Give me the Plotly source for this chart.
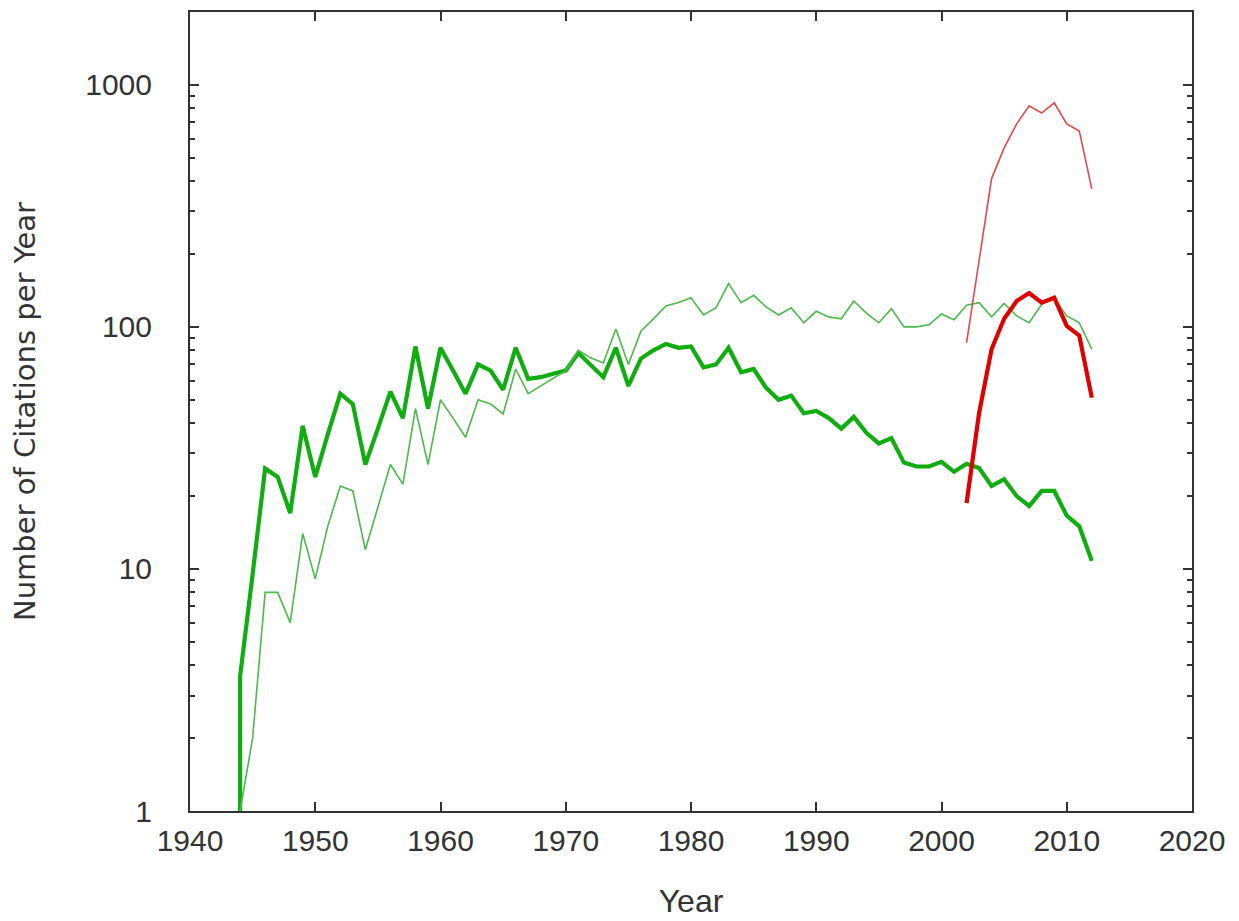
import plotly.graph_objects as go

# ---- data ----
years_green_thick = [1944, 1944] + list(range(1945, 2013))
green_thick = [1, 3.6, 9.5, 26, 24, 17, 39, 24, 36, 53, 48, 27, 38, 54, 42, 83, 46, 82,
               66, 53, 70, 66, 55, 82, 61, 62, 64, 66, 78, 70, 62, 82, 57, 74, 80, 85,
               82, 83, 68, 70, 82, 65, 67, 56, 50, 52, 44, 45, 42, 38, 42.5, 36.5, 33,
               34.7, 27.5, 26.5, 26.5, 27.7, 25.2, 27.2, 26.1, 22, 23.5, 20, 18.2, 21,
               21, 16.6, 15, 10.8]

years_green_thin = list(range(1944, 2013))
green_thin = [1, 2, 8, 8, 6, 14, 9.1, 15, 22, 21, 12, 18, 27, 22.4, 46, 27, 50, 42, 35,
              50, 48, 43.7, 67, 53, 57, 61, 66, 80, 74.5, 71, 98, 70, 96, 108, 122, 126,
              132, 112, 120, 151, 126, 135, 121, 112, 120, 104, 116, 110, 108, 128, 114,
              104, 119, 100, 100, 102, 113, 107, 123, 126, 110, 125, 111, 104, 124, 131,
              111, 104, 81]

years_red = list(range(2002, 2013))
red_thick = [18.7, 44, 81, 108, 128, 138, 126, 132, 101, 92, 51]
red_thin = [86, 185, 410, 549, 690, 819, 765, 843, 690, 645, 372]

x_ticks = [1940, 1950, 1960, 1970, 1980, 1990, 2000, 2010, 2020]
y_ticks = [1, 10, 100, 1000]

fig = go.Figure()
fig.add_trace(go.Scatter(x=years_green_thick, y=green_thick, mode="lines",
                         line=dict(color="#10ad10", width=4.2), showlegend=False))
fig.add_trace(go.Scatter(x=years_green_thin, y=green_thin, mode="lines",
                         line=dict(color="#4cb94c", width=1.6), showlegend=False))
fig.add_trace(go.Scatter(x=years_red, y=red_thick, mode="lines",
                         line=dict(color="#e00000", width=4.2), showlegend=False))
fig.add_trace(go.Scatter(x=years_red, y=red_thin, mode="lines",
                         line=dict(color="#e5484a", width=1.6), showlegend=False))

axis_color = "#333333"
fig.update_layout(
    width=1239, height=921,
    margin=dict(l=182, r=55, t=2, b=118),
    paper_bgcolor="white", plot_bgcolor="white",
    font=dict(family="Liberation Sans, Arial, sans-serif", color="#333333", size=30),
)
fig.update_xaxes(
    range=[1940, 2020], tickvals=x_ticks, ticktext=[str(v) for v in x_ticks],
    ticks="inside", ticklen=9, tickwidth=2, tickcolor=axis_color,
    showline=True, linewidth=2, linecolor=axis_color, mirror="ticks",
    showgrid=False, zeroline=False, ticklabelstandoff=2,
    tickfont=dict(size=30),
    title=dict(text="Year", font=dict(size=32), standoff=34),
)
fig.update_yaxes(
    type="log", range=[0, 3.301], tickvals=y_ticks, ticktext=[str(v) for v in y_ticks],
    ticks="inside", ticklen=9, tickwidth=2, tickcolor=axis_color,
    showline=True, linewidth=2, linecolor=axis_color, mirror="ticks",
    showgrid=False, zeroline=False, ticklabelstandoff=30,
    tickfont=dict(size=30),
    minor=dict(ticks="inside", ticklen=5, tickwidth=2, tickcolor=axis_color,
               dtick="D1", showgrid=False),
    title=dict(text="Number of Citations per Year",
               font=dict(family="DejaVu Sans, sans-serif", size=29), standoff=44),
)

fig.write_html("out.html")
